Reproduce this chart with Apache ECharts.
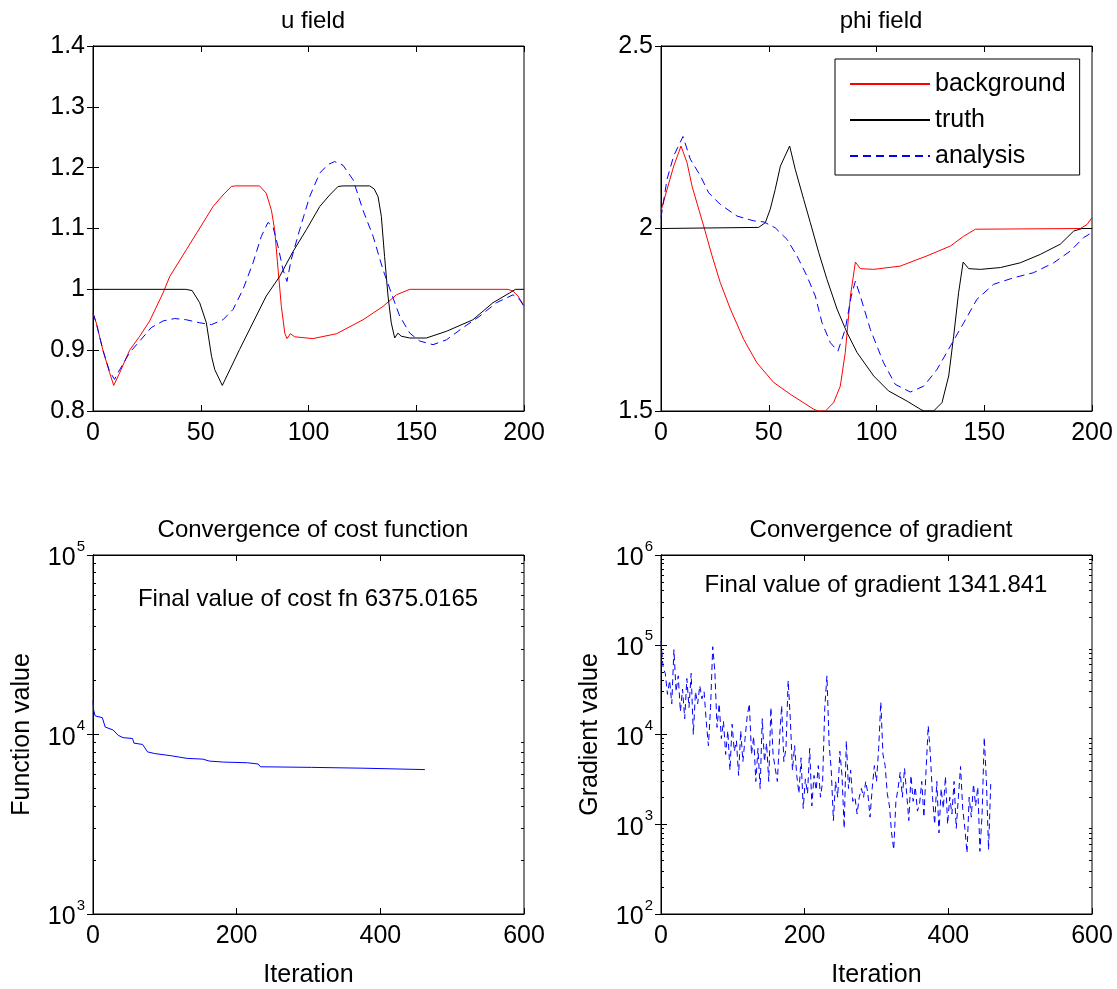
<!DOCTYPE html>
<html>
<head>
<meta charset="utf-8">
<script src="https://cdn.jsdelivr.net/npm/echarts@6/dist/echarts.min.js"></script>
<style>
  html, body { margin: 0; padding: 0; background: #fff; }
  #main { width: 1117px; height: 989px; }
</style>
</head>
<body>
<div id="main"></div>
<script>
// u field: [x, u]
var uBackground = [[0,0.961],[1.5,0.945],[4.6,0.9],[7.7,0.863],[9.6,0.842],[12.4,0.863],[17,0.9],[21.7,0.923],[26.3,0.948],[32.5,0.994],[35.6,1.021],[43.3,1.065],[51,1.109],[55.7,1.136],[60.3,1.155],[64.2,1.169],[66,1.17],[77.3,1.17],[80.4,1.158],[82.8,1.13],[84.3,1.098],[85.9,1.032],[87.4,0.972],[89,0.928],[90,0.919],[91.6,0.927],[93.6,0.922],[102,0.919],[113,0.927],[125.3,0.95],[134.6,0.972],[140.8,0.991],[147,1.0],[192.6,1.0],[194.9,0.997],[197.2,0.989],[200,0.973]];
var uTruth = [[0,1],[43,1],[46,0.998],[49.5,0.978],[52.6,0.945],[55,0.89],[56.5,0.868],[60,0.842],[68,0.901],[80.4,0.989],[86.6,1.021],[92.8,1.062],[99,1.098],[105.2,1.136],[109.8,1.155],[113.7,1.169],[116,1.17],[128.4,1.17],[130.5,1.165],[132.3,1.152],[133.8,1.12],[135.3,1.054],[136.9,0.989],[138.4,0.945],[140,0.92],[141.5,0.928],[143,0.923],[147,0.92],[154.7,0.92],[164,0.931],[176.3,0.95],[185.6,0.978],[193.3,0.994],[196,1.0],[200,1.0]];
var uAnalysis = [[0,0.961],[1.5,0.945],[4.6,0.9],[7.7,0.865],[10,0.852],[12.4,0.868],[17,0.896],[21.7,0.915],[27,0.937],[32.5,0.948],[37.9,0.952],[43.3,0.95],[49.5,0.945],[55,0.942],[60.3,0.95],[65,0.967],[69.6,1.0],[74.2,1.043],[78.1,1.087],[81.2,1.11],[83.5,1.103],[85.9,1.07],[88.2,1.032],[90,1.013],[92,1.049],[95.9,1.098],[100.5,1.152],[105.2,1.191],[109,1.205],[112.1,1.21],[116,1.204],[120.7,1.18],[125.3,1.13],[130,1.087],[134.6,1.032],[138.4,0.994],[142.3,0.956],[147,0.928],[151.6,0.915],[157.8,0.909],[164,0.917],[171.7,0.937],[179.5,0.956],[187.2,0.978],[194.9,0.991],[198,0.983],[200,0.972]];

// phi field: [x, phi]
var phiBackground = [[0,2.048],[2.8,2.107],[5.9,2.171],[9.3,2.226],[12.1,2.18],[14.4,2.116],[17.5,2.053],[19.8,2.007],[23.7,1.925],[27.5,1.852],[32.2,1.779],[38.4,1.696],[44.5,1.632],[52.3,1.578],[60,1.546],[70.8,1.505],[73,1.5],[76.3,1.5],[80.1,1.523],[83.2,1.568],[85.5,1.66],[87.9,1.815],[90.2,1.908],[92.5,1.89],[98.7,1.888],[111,1.897],[123.4,1.925],[134.3,1.952],[140.5,1.979],[145.9,1.998],[194.6,2.0],[197.7,2.011],[200,2.03]];
var phiTruth = [[0,2.0],[45.3,2.003],[48.4,2.016],[50.7,2.053],[53,2.107],[55.4,2.171],[59.7,2.226],[62.3,2.162],[66.2,2.08],[69.3,2.016],[73.2,1.934],[77,1.861],[81.7,1.779],[86.3,1.715],[91,1.66],[98.7,1.596],[105.6,1.555],[114.2,1.527],[120.3,1.505],[122,1.5],[126.5,1.5],[130.4,1.523],[133.5,1.596],[135.8,1.705],[138.1,1.824],[140.2,1.908],[142.8,1.89],[148.2,1.888],[157.5,1.893],[166.7,1.906],[176,1.929],[185.3,1.957],[191.5,1.993],[195.4,2.0],[200,2.0]];
var phiAnalysis = [[0,2.03],[2.8,2.135],[5.9,2.199],[10.2,2.252],[13.6,2.19],[18.3,2.144],[22.1,2.098],[27.5,2.066],[35.3,2.034],[43,2.021],[47.7,2.018],[53,2.002],[58.5,1.97],[63.1,1.925],[67.7,1.87],[71.6,1.815],[74.7,1.742],[78.6,1.687],[82.1,1.664],[85.5,1.724],[88.3,1.815],[90.2,1.856],[92.5,1.815],[97.1,1.724],[103.3,1.632],[108.7,1.573],[115.7,1.552],[121.9,1.568],[128.1,1.614],[134.3,1.678],[140.5,1.742],[146.6,1.806],[154.3,1.847],[163.6,1.865],[172.9,1.879],[182.2,1.906],[189.9,1.938],[196.1,1.975],[200,1.989]];

// cost function per iteration: [iteration, value]
var costData = [[0,15400],[1,13600],[3,12700],[13,12400],[17,11000],[28,10600],[35,9900],[42,9600],[55,9500],[57,8950],[69,8800],[76,8000],[86,7830],[109,7610],[131,7360],[153,7290],[162,7110],[182,7020],[215,6960],[230,6850],[233,6610],[304,6560],[376,6490],[378,6400],[462,6375]];

// gradient norm, one value every gradStep iterations
var gradStep = 3;
var gradValues = [110000,55000,48000,28000,40000,22000,88000,30000,45000,18000,
  32000,15000,42000,20000,48000,10000,30000,22000,35000,25000,
  30000,14000,7500,20000,95000,50000,12000,22000,9000,14000,
  6000,11000,4000,13000,6500,8500,3500,11000,5000,9000,
  16000,22000,6000,9500,3000,7000,2500,15000,5000,8000,
  3000,20000,6000,4200,3000,9000,21000,5000,7000,40000,
  15000,4000,7500,3500,2200,5500,1500,3200,2200,7000,
  1600,3500,2400,4500,2000,3000,20000,45000,8000,4000,
  1100,3000,2000,6500,3500,900,8500,2500,4000,1800,
  2000,1300,2000,2500,2000,3000,2200,1200,2500,4500,
  3000,7000,23000,6000,4500,2200,1600,800,520,1800,
  2500,3800,2000,4200,2200,1100,3500,1800,2600,1400,
  1700,3000,1200,4000,12500,6000,2000,1000,3000,800,
  2500,1500,3400,1000,2000,1300,3000,900,2000,4400,
  1500,900,480,2000,1200,2800,1600,2600,500,1300,
  9300,3000,520,2800];

var titles = ['u field', 'phi field', 'Convergence of cost function', 'Convergence of gradient'];
var costNote = 'Final value of cost fn 6375.0165';
var gradNote = 'Final value of gradient 1341.841';
var legendNames = ['background', 'truth', 'analysis'];

var FONT = 'Liberation Sans';
var grids = [
  {left: 93, top: 46, width: 431, height: 365},
  {left: 661, top: 46, width: 431, height: 365},
  {left: 93, top: 555, width: 431, height: 365},
  {left: 661, top: 555, width: 431, height: 365}
];

function minorTicks(lo, hi) {
  var v = [];
  for (var p = lo; p < hi; p++) {
    for (var k = 2; k <= 9; k++) v.push(k * Math.pow(10, p));
  }
  return v;
}

function xPair(gi, min, max, interval, name) {
  var base = {
    gridIndex: gi, type: 'value', min: min, max: max, interval: interval,
    splitLine: {show: false},
    axisLine: {lineStyle: {color: '#000', width: 1}},
    axisTick: {inside: true, length: 6, lineStyle: {color: '#000'}}
  };
  var bottom = Object.assign({}, base, {
    position: 'bottom',
    axisLabel: {color: '#000', fontSize: 25, fontFamily: FONT, margin: 10},
    name: name || '', nameLocation: 'middle', nameGap: 49,
    nameTextStyle: {color: '#000', fontSize: 25, fontFamily: FONT}
  });
  var top = Object.assign({}, base, {position: 'top', axisLabel: {show: false}});
  return [bottom, top];
}

function yPairLinear(gi, min, max, interval) {
  var base = {
    gridIndex: gi, type: 'value', min: min, max: max, interval: interval,
    splitLine: {show: false},
    axisLine: {lineStyle: {color: '#000', width: 1}},
    axisTick: {inside: true, length: 6, lineStyle: {color: '#000'}}
  };
  return [
    Object.assign({}, base, {position: 'left', axisLabel: {color: '#000', fontSize: 25, fontFamily: FONT, margin: 8}}),
    Object.assign({}, base, {position: 'right', axisLabel: {show: false}})
  ];
}

function yLog(gi, min, max, pos, name, minor) {
  var ax = {
    gridIndex: gi, type: 'log', logBase: 10, min: min, max: max, position: pos,
    splitLine: {show: false},
    axisLine: {lineStyle: {color: '#000', width: 1}},
    axisTick: {inside: true, length: 6, lineStyle: {color: '#000'}},
    axisLabel: {show: false}
  };
  if (minor) {
    ax.axisLine = {show: false};
    ax.axisTick = {inside: true, length: 3, lineStyle: {color: '#000'},
      customValues: minorTicks(Math.round(Math.log10(min)), Math.round(Math.log10(max)))};
  }
  if (pos === 'left' && !minor) {
    ax.axisLabel = {
      show: true, margin: 8,
      formatter: function (v) { return '{b|10}{s|' + Math.round(Math.log10(v)) + '}'; },
      rich: {
        b: {color: '#000', fontSize: 25, fontFamily: FONT, lineHeight: 32, verticalAlign: 'bottom'},
        s: {color: '#000', fontSize: 15, fontFamily: FONT, lineHeight: 15, verticalAlign: 'top', padding: [0, 0, 0, 1]}
      }
    };
    ax.name = name;
    ax.nameLocation = 'middle';
    ax.nameGap = 58;
    ax.nameTextStyle = {color: '#000', fontSize: 25, fontFamily: FONT};
  }
  return ax;
}

var xAxes = [].concat(
  xPair(0, 0, 200, 50), xPair(1, 0, 200, 50),
  xPair(2, 0, 600, 200, 'Iteration'), xPair(3, 0, 600, 200, 'Iteration')
);
var yAxes = [].concat(
  yPairLinear(0, 0.8, 1.4, 0.1), yPairLinear(1, 1.5, 2.5, 0.5),
  [yLog(2, 1e3, 1e5, 'left', 'Function value'), yLog(2, 1e3, 1e5, 'right')],
  [yLog(3, 1e2, 1e6, 'left', 'Gradient value'), yLog(3, 1e2, 1e6, 'right')],
  [yLog(2, 1e3, 1e5, 'left', '', true), yLog(2, 1e3, 1e5, 'right', '', true),
   yLog(3, 1e2, 1e6, 'left', '', true), yLog(3, 1e2, 1e6, 'right', '', true)]
);

function line(name, data, xi, yi, color, dash) {
  return {
    name: name, type: 'line', data: data, xAxisIndex: xi, yAxisIndex: yi,
    symbol: 'none', animation: false, silent: true,
    lineStyle: {color: color, width: 1, type: dash || 'solid'},
    itemStyle: {color: color}
  };
}

var gradData = gradValues.map(function (v, i) { return [i * gradStep, v]; });

var titleStyle = {color: '#000', fontSize: 24, fontWeight: 'normal', fontFamily: FONT};
var option = {
  backgroundColor: '#fff',
  animation: false,
  title: [
    {text: titles[0], left: 308, top: 4, textAlign: 'center', textStyle: titleStyle},
    {text: titles[1], left: 876, top: 4, textAlign: 'center', textStyle: titleStyle},
    {text: titles[2], left: 308, top: 513, textAlign: 'center', textStyle: titleStyle},
    {text: titles[3], left: 876, top: 513, textAlign: 'center', textStyle: titleStyle},
    {text: costNote, left: 303, top: 582, textAlign: 'center', textStyle: titleStyle},
    {text: gradNote, left: 871, top: 568, textAlign: 'center', textStyle: titleStyle}
  ],
  legend: {
    data: legendNames,
    orient: 'vertical',
    left: 835, top: 59,
    padding: [12, 14, 6, 14],
    itemGap: 10,
    itemWidth: 80, itemHeight: 14,
    itemStyle: {opacity: 0},
    backgroundColor: '#fff',
    borderColor: '#000', borderWidth: 1,
    textStyle: {color: '#000', fontSize: 25, fontFamily: FONT, lineHeight: 26},
    selectedMode: false
  },
  grid: grids.map(function (g) {
    return Object.assign({show: true, borderColor: '#000', borderWidth: 1, backgroundColor: 'transparent'}, g);
  }),
  xAxis: xAxes,
  yAxis: yAxes,
  series: [
    line('background', uBackground, 0, 0, '#ff0000'),
    line('truth', uTruth, 0, 0, '#000000'),
    line('analysis', uAnalysis, 0, 0, '#0000ff', [8, 5]),
    line('background', phiBackground, 2, 2, '#ff0000'),
    line('truth', phiTruth, 2, 2, '#000000'),
    line('analysis', phiAnalysis, 2, 2, '#0000ff', [8, 5]),
    line('cost', costData, 4, 4, '#0000ff'),
    line('gradient', gradData, 6, 6, '#0000ff', [6, 4])
  ]
};

var chart = echarts.init(document.getElementById('main'), null, {renderer: 'canvas'});
chart.setOption(option);
</script>
</body>
</html>
